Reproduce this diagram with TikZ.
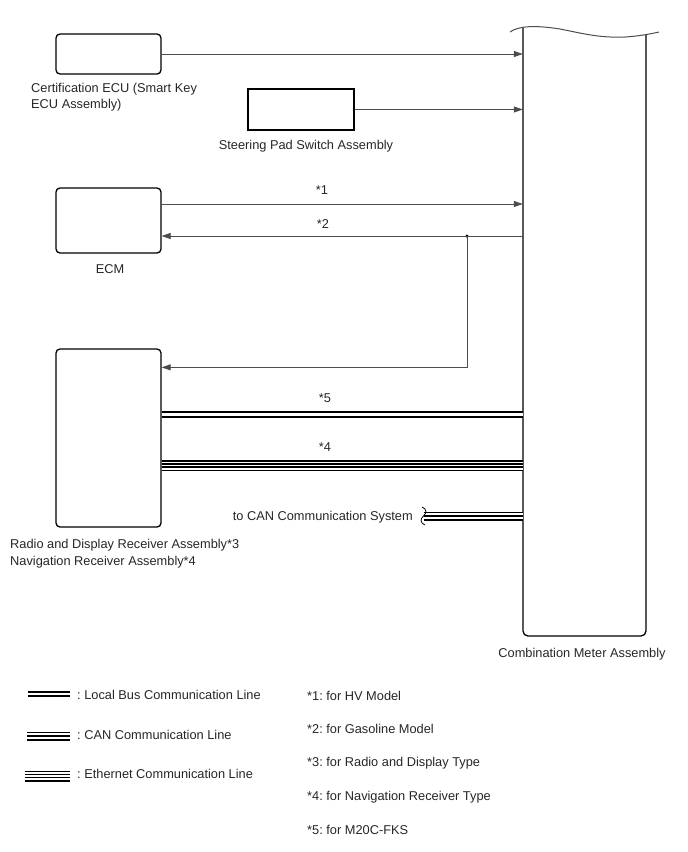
\documentclass[tikz,border=0pt]{standalone}
\usepackage{xcolor}
\usepackage{tikz}
\usepackage{fontspec}
\setmainfont{Liberation Sans}
\usetikzlibrary{arrows.meta}
\frenchspacing

\tikzset{
    unitbox/.style={draw=black, line width=1.3pt, rounded corners=4pt, inner sep=0pt},
    sig/.style={draw=black!70, line width=0.8pt},
    tip/.style={-{Triangle[length=9pt,width=6pt]}},
    lbl/.style={inner sep=0pt, text=black!85, font=\fontsize{12.8}{16.5}\selectfont},
    localbus/.style={double, double distance=2.8pt, line width=1.8pt},
    canbus/.style={line width=9pt, postaction={draw=white, line width=6pt},
        postaction={draw=black, line width=1.6pt}},
    ethbus/.style={line width=11pt, postaction={draw=white, line width=8pt},
        postaction={draw=black, line width=4.7pt},
        postaction={draw=white, line width=1.7pt}},
    dot/.style={circle, fill=black, inner sep=0pt, minimum size=3.5pt}
}

\begin{document}
\begin{tikzpicture}[x=1pt, y=-1pt]
    \useasboundingbox (0,0) rectangle (688,852);

    % units
    \node[unitbox, minimum width=105pt, minimum height=40pt] (cert) at (108.5,54) {};
    \node[unitbox, rounded corners=0pt, line width=1.2pt, minimum width=106pt, minimum height=41pt] (pad) at (301,109.5) {};
    \node[unitbox, minimum width=105pt, minimum height=65pt] (ecm) at (108.5,220.5) {};
    \node[unitbox, minimum width=105pt, minimum height=178pt] (radio) at (108.5,438) {};
    \node[inner sep=0pt, minimum width=123pt, minimum height=606pt] (meter) at (584.5,333) {};

    % combination meter outline
    \draw[line width=1.3pt, rounded corners=5pt] (523,27.5) -- (523,636) -- (646,636) -- (646,35);
    \draw[black!70, line width=1pt] (510,32) .. controls (518,26) and (535,25) .. (560,29)
        .. controls (585,34) and (600,38) .. (625,37) .. controls (640,36) and (650,34) .. (659,32);

    % labels of units
    \node[lbl, anchor=west, align=left] at (31,97) {Certification ECU (Smart Key\\ECU Assembly)};
    \node[lbl] at (306,146) {Steering Pad Switch Assembly};
    \node[lbl] at (110,269) {ECM};
    \node[lbl, anchor=west, align=left] at (10,553.5) {Radio and Display Receiver Assembly*3\\Navigation Receiver Assembly*4};
    \node[lbl] at (582,654) {Combination Meter Assembly};

    % signal lines
    \draw[sig, tip] (cert.east) -- (cert.east -| meter.west);
    \draw[sig, tip] (pad.east) -- (pad.east -| meter.west);
    \coordinate (e1) at ([yshift=16.5pt]ecm.east);
    \coordinate (e2) at ([yshift=-15.5pt]ecm.east);
    \draw[sig, tip] (e1) -- (e1 -| meter.west);
    \node[lbl] at (322,190) {*1};
    \node[dot] (jn) at (467,236) {};
    \draw[sig, tip] (e2 -| meter.west) -- (e2);
    \node[lbl] at (323,224) {*2};
    \coordinate (r1) at ([yshift=-19pt]radio.north east);
    \draw[sig, tip] (jn.center) |- (r1);

    % bus lines
    \coordinate (r5) at ([yshift=23.5pt]radio.east);
    \coordinate (r4) at ([yshift=-27.5pt]radio.east);
    \draw[localbus] (r5) -- (r5 -| meter.west);
    \node[lbl] at (325,398) {*5};
    \draw[ethbus] (r4) -- (r4 -| meter.west);
    \node[lbl] at (325,447) {*4};
    \coordinate (can) at (423.5,516);
    \draw[canbus] (can) -- (can -| meter.west);
    \draw[black, line width=0.8pt] (422,507) .. controls (427,509) and (427,513) .. (423.5,516)
        .. controls (420,519) and (420,523) .. (425,525);
    \node[lbl, anchor=east] at (413,517) {to CAN Communication System};

    % legend
    \draw[localbus] (28,694) -- (70,694);
    \node[lbl, anchor=west] at (77,695) {: Local Bus Communication Line};
    \draw[canbus] (27,736) -- (70,736);
    \node[lbl, anchor=west] at (77,735) {: CAN Communication Line};
    \draw[ethbus] (25,776) -- (70,776);
    \node[lbl, anchor=west] at (77,774) {: Ethernet Communication Line};

    \node[lbl, anchor=west] at (307,696) {*1: for HV Model};
    \node[lbl, anchor=west] at (307,729) {*2: for Gasoline Model};
    \node[lbl, anchor=west] at (307,763) {*3: for Radio and Display Type};
    \node[lbl, anchor=west] at (307,797) {*4: for Navigation Receiver Type};
    \node[lbl, anchor=west] at (307,830) {*5: for M20C-FKS};
\end{tikzpicture}
\end{document}
